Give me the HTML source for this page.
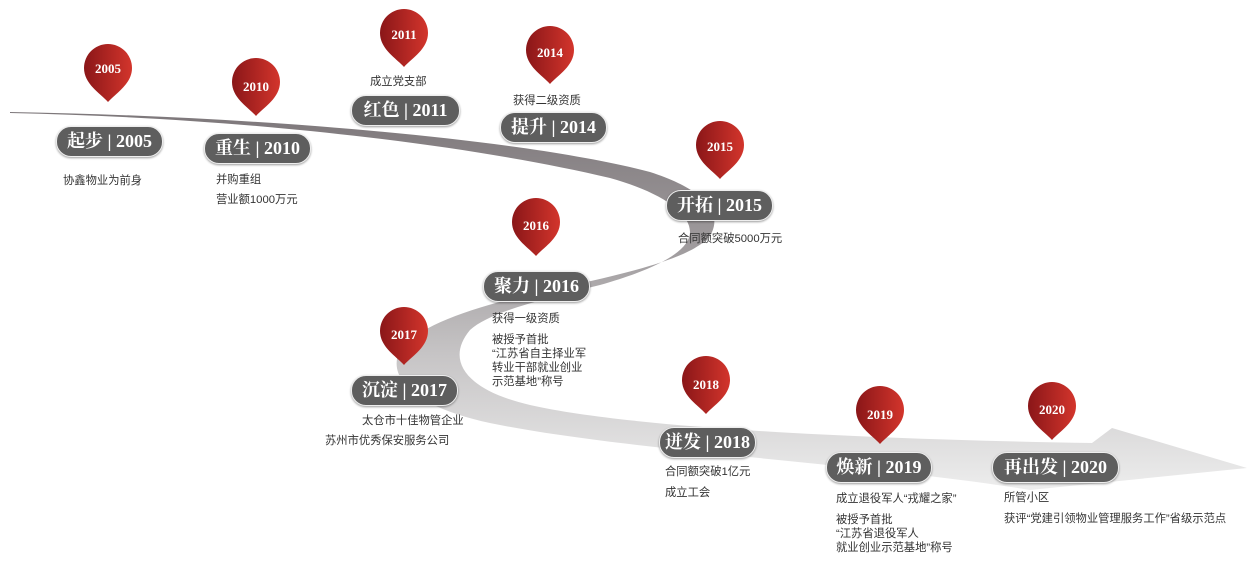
<!DOCTYPE html>
<html><head><meta charset="utf-8">
<style>
body{margin:0;width:1258px;height:562px;background:#fff;position:relative;overflow:hidden;font-family:"Liberation Sans","Noto Sans CJK SC",sans-serif}
svg{position:absolute;left:0;top:0}
.p{position:absolute;height:29px;border-radius:15px;background:#5e5e5e;border:1px solid #eee;box-shadow:0 1px 2px rgba(0,0,0,.4);color:#fff;font-family:"Liberation Serif","Noto Serif CJK SC",serif;font-weight:bold;font-size:18px;line-height:29px;text-align:center;white-space:nowrap}
.t{position:absolute;font-size:11.3px;color:#333;line-height:14px;white-space:nowrap}
</style></head><body>
<svg width="1258" height="562" viewBox="0 0 1258 562">
<defs>
<linearGradient id="rg" x1="0" y1="100" x2="0" y2="490" gradientUnits="userSpaceOnUse">
<stop offset="0" stop-color="#7a7477"/><stop offset="0.4" stop-color="#a29ea0"/><stop offset="0.65" stop-color="#c6c4c5"/><stop offset="1" stop-color="#ededed"/>
</linearGradient>
<linearGradient id="pg" x1="0" y1="0" x2="1" y2="0">
<stop offset="0" stop-color="#8a1618"/><stop offset="1" stop-color="#d3352c"/>
</linearGradient>
<g id="pin"><path d="M0,34 C-8,25 -24,16 -24,0 A24,24 0 1 1 24,0 C24,16 8,25 0,34 Z" fill="url(#pg)"/></g>
</defs>
<path fill="url(#rg)" d="M10,112 C250,116 520,138 650,172 C700,188 722,210 712,232 C700,258 620,275 540,292 C470,308 420,325 400,350 C385,380 420,410 500,425 C640,452 880,465 1030,490 L1247,468 L1112,428 L1092,443 C900,440 640,430 530,405 C465,390 445,360 470,330 C490,312 540,300 600,285 C660,268 690,250 690,232 C690,212 660,192 610,178 C470,145 250,118 10,113 Z"/>
<g font-family="Liberation Serif,serif" font-weight="bold" font-size="13" fill="#fff" text-anchor="middle">
<use href="#pin" x="108" y="68"/><text x="108" y="73">2005</text>
<use href="#pin" x="256" y="82"/><text x="256" y="91">2010</text>
<use href="#pin" x="404" y="33"/><text x="404" y="39">2011</text>
<use href="#pin" x="550" y="50"/><text x="550" y="57">2014</text>
<use href="#pin" x="720" y="145"/><text x="720" y="151">2015</text>
<use href="#pin" x="536" y="222"/><text x="536" y="230">2016</text>
<use href="#pin" x="404" y="331"/><text x="404" y="339">2017</text>
<use href="#pin" x="706" y="380"/><text x="706" y="389">2018</text>
<use href="#pin" x="880" y="410"/><text x="880" y="419">2019</text>
<use href="#pin" x="1052" y="406"/><text x="1052" y="414">2020</text>
</g>
</svg>
<div class="p" style="left:56px;top:126px;width:105px">起步&nbsp;|&nbsp;2005</div>
<div class="p" style="left:204px;top:133px;width:105px">重生&nbsp;|&nbsp;2010</div>
<div class="p" style="left:351px;top:95px;width:107px">红色&nbsp;|&nbsp;2011</div>
<div class="p" style="left:500px;top:112px;width:105px">提升&nbsp;|&nbsp;2014</div>
<div class="p" style="left:666px;top:190px;width:105px">开拓&nbsp;|&nbsp;2015</div>
<div class="p" style="left:483px;top:271px;width:105px">聚力&nbsp;|&nbsp;2016</div>
<div class="p" style="left:351px;top:375px;width:105px">沉淀&nbsp;|&nbsp;2017</div>
<div class="p" style="left:659px;top:427px;width:95px">迸发&nbsp;|&nbsp;2018</div>
<div class="p" style="left:826px;top:452px;width:104px">焕新&nbsp;|&nbsp;2019</div>
<div class="p" style="left:992px;top:452px;width:125px">再出发&nbsp;|&nbsp;2020</div>

<div class="t" style="left:63px;top:174px">协鑫物业为前身</div>
<div class="t" style="left:216px;top:173px">并购重组</div>
<div class="t" style="left:216px;top:193px">营业额1000万元</div>
<div class="t" style="left:370px;top:75px">成立党支部</div>
<div class="t" style="left:513px;top:94px">获得二级资质</div>
<div class="t" style="left:678px;top:232px">合同额突破5000万元</div>
<div class="t" style="left:492px;top:312px">获得一级资质</div>
<div class="t" style="left:492px;top:333px">被授予首批<br>“江苏省自主择业军<br>转业干部就业创业<br>示范基地”称号</div>
<div class="t" style="left:362px;top:414px">太仓市十佳物管企业</div>
<div class="t" style="left:325px;top:434px">苏州市优秀保安服务公司</div>
<div class="t" style="left:665px;top:465px">合同额突破1亿元</div>
<div class="t" style="left:665px;top:486px">成立工会</div>
<div class="t" style="left:836px;top:492px">成立退役军人“戎耀之家”</div>
<div class="t" style="left:836px;top:513px">被授予首批<br>“江苏省退役军人<br>就业创业示范基地”称号</div>
<div class="t" style="left:1004px;top:491px">所管小区</div>
<div class="t" style="left:1004px;top:512px">获评“党建引领物业管理服务工作”省级示范点</div>
</body></html>
